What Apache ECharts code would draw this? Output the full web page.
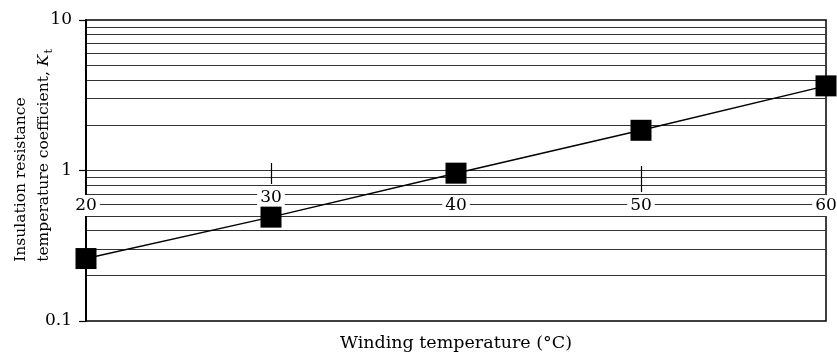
<!DOCTYPE html>
<html>
<head>
<meta charset="utf-8">
<script src="https://cdn.jsdelivr.net/npm/echarts@6/dist/echarts.min.js"></script>
<style>
  html, body { margin: 0; padding: 0; background: #fff; }
  #grafico { width: 837px; height: 354px; }
</style>
</head>
<body>
<div id="grafico"></div>
<script>
// dados
var temperaturas = [20, 30, 40, 50, 60];
var coeficientes = [0.26, 0.49, 0.96, 1.85, 3.65];
var linhasGrade = [0.2, 0.3, 0.4, 0.5, 0.6, 0.7, 0.8, 0.9, 1, 2, 3, 4, 5, 6, 7, 8, 9];
var rotulosX = [20, 40, 50, 60];   // rotulos na linha de baixo
var rotulosXAlto = [30];           // o 30 fica um pouco mais alto
var marcasX = [50];
var marcasXAlto = [30];

var fonte = "'DejaVu Serif', 'Liberation Serif', serif";

var pontos = temperaturas.map((t, i) => [t, coeficientes[i]]);

// eixo x "flutuante" no meio do grafico
function eixoFlutuante(offset, rotulos, marcas, tamMarca) {
    return {
        type: "value",
        min: 20,
        max: 60,
        interval: 10,
        position: "bottom",
        offset: offset,
        z: 3,
        axisLine: { show: false },
        splitLine: { show: false },
        axisTick: {
            show: true,
            inside: true,
            length: tamMarca,
            customValues: marcas,
            lineStyle: { color: "#000", width: 1.2 }
        },
        axisLabel: {
            customValues: rotulos,
            margin: 3,
            color: "#000",
            fontFamily: fonte,
            fontSize: 17,
            backgroundColor: "#fff",
            padding: [2, 3, 2, 3]
        }
    };
}

var estiloNome = { fontFamily: fonte, fontSize: 15.5, color: "#000", align: "left" };

var option = {
    animation: false,
    grid: {
        left: 86,
        right: 11,
        top: 20,
        bottom: 33,
        outerBoundsMode: "none",
        containLabel: false,
        show: true,
        borderColor: "#000",
        borderWidth: 1.5,
        backgroundColor: "#fff"
    },
    xAxis: [
        eixoFlutuante(-129, rotulosX, marcasX, 26),
        eixoFlutuante(-137, rotulosXAlto, marcasXAlto, 21),
        {
            type: "value",
            min: 20,
            max: 60,
            position: "bottom",
            axisLine: { show: false },
            axisTick: { show: false },
            axisLabel: { show: false },
            splitLine: { show: false },
            name: "Winding temperature (°C)",
            nameLocation: "middle",
            nameGap: 13,
            nameMoveOverlap: false,
            nameTextStyle: { color: "#000", fontFamily: fonte, fontSize: 17.5 }
        }
    ],
    yAxis: {
        type: "log",
        logBase: 10,
        min: 0.1,
        max: 10,
        z: 1,
        axisLine: { show: true, lineStyle: { color: "#000", width: 2 } },
        axisTick: { show: true, length: 7, lineStyle: { color: "#000", width: 1.2 } },
        splitLine: { show: false },
        minorTick: { show: false },
        axisLabel: {
            margin: 14,
            color: "#000",
            fontFamily: fonte,
            fontSize: 17,
            formatter: v => String(v)
        },
        name: "{a|Insulation resistance}\n{a|temperature coefficient, }{i|K}{s|t}",
        nameLocation: "middle",
        nameGap: 31,
        nameMoveOverlap: false,
        nameTextStyle: {
            color: "#000",
            fontFamily: fonte,
            fontSize: 15.5,
            lineHeight: 23,
            padding: [0, 0, 0, 30],
            rich: {
                a: estiloNome,
                i: Object.assign({}, estiloNome, { fontStyle: "italic" }),
                s: Object.assign({}, estiloNome, { fontSize: 11, verticalAlign: "bottom", padding: [6, 0, 0, 1] })
            }
        }
    },
    series: [
        {
            type: "line",
            xAxisIndex: 0,
            data: pontos,
            symbol: "rect",
            symbolSize: 21,
            clip: false,
            z: 5,
            lineStyle: { color: "#000", width: 1.5 },
            itemStyle: { color: "#000" },
            markLine: {
                silent: true,
                symbol: "none",
                label: { show: false },
                z: 1,
                lineStyle: { color: "#333", width: 1.2, type: "solid" },
                data: linhasGrade.map(v => ({ yAxis: v }))
            }
        }
    ]
};

var meuGrafico = echarts.init(document.getElementById("grafico"));
meuGrafico.setOption(option);
</script>
</body>
</html>
